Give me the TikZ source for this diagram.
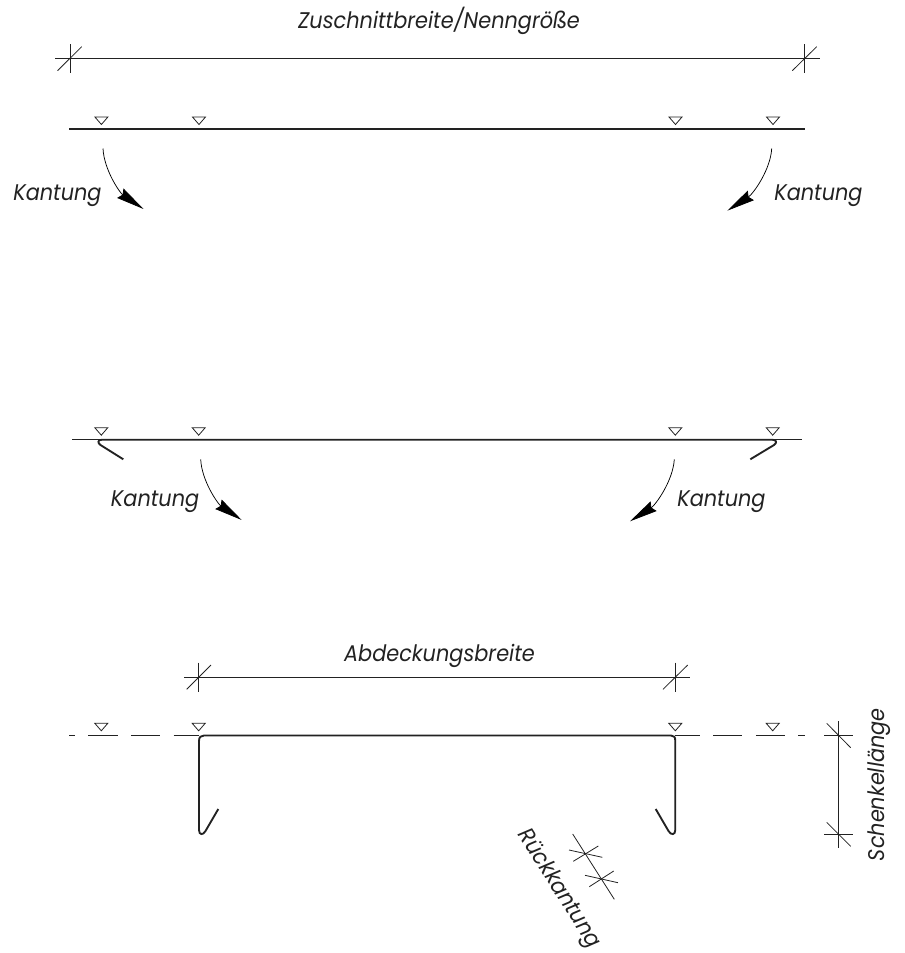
\documentclass[tikz,border=0pt]{standalone}
\usepackage{fontspec}
\setmainfont{Poppins}[FakeStretch=.92]
\usetikzlibrary{arrows.meta}
\definecolor{SheetGray}{HTML}{222222}
\tikzset{
  lbl/.style={inner sep=0pt,font=\fontsize{17pt}{19pt}\selectfont\itshape,text=SheetGray},
  dimline/.style={line width=.6pt,draw=SheetGray},
  sheet/.style={line width=1.4pt,draw=SheetGray},
  thinline/.style={line width=.6pt,draw=SheetGray},
  marker/.style={line width=.6pt,draw=SheetGray},
  foldarrow/.style={line width=.55pt,draw=black,-{Stealth[length=21pt,width=8.5pt,inset=2pt]}}
}
\begin{document}
\begin{tikzpicture}[x=.75pt,y=-.75pt]
        \useasboundingbox (0,0) rectangle (905,953);
        % top sheet
        \draw[dimline] (55,58.7) -- (819.5,58.7);
        \draw[dimline] (70,44) -- (70,73);
        \draw[dimline] (804,44) -- (804,73);
        \draw[dimline] (57.5,70.7) -- (81.7,46.7);
        \draw[dimline] (792.3,70.7) -- (816.7,46.7);
        \node[lbl,anchor=base] (topdim) at (439,28.5) {Zuschnittbreite/Nenngröße};
        \draw[sheet] (69,128.7) -- (805,128.7);
        \draw[foldarrow] (103,148.5) .. controls (104,170) and (120,193) .. (143.5,209);
        \draw[foldarrow] (771.7,148.5) .. controls (770.5,170) and (753,194) .. (727.3,210.7);
        \node[lbl,anchor=base west] (kant1) at (13,200) {Kantung};
        \node[lbl,anchor=base west] (kant2) at (774,200) {Kantung};
        % middle sheet
        \draw[thinline] (72.3,439.7) -- (801.7,439.7);
        \draw[sheet] (123.3,459.3) -- (100.5,445) .. controls (97,442.5) and (98,439.7) .. (102,439.7) -- (772,439.7) .. controls (776.5,439.7) and (777.5,442.5) .. (774,445) -- (750.3,459.3);
        \draw[foldarrow] (200.7,459.3) .. controls (201.7,481) and (218,504) .. (241.7,520);
        \draw[foldarrow] (674.3,459.3) .. controls (673,481) and (655.5,505) .. (630,521.3);
        \node[lbl,anchor=base west] (kant3) at (110.7,506.7) {Kantung};
        \node[lbl,anchor=base west] (kant4) at (677,506.7) {Kantung};
        % bottom profile
        \draw[dimline] (184.3,677.3) -- (690,677.3);
        \draw[dimline] (198.7,662.7) -- (198.7,691.7);
        \draw[dimline] (675.3,662.7) -- (675.3,691.7);
        \draw[dimline] (186.7,689.3) -- (211,665);
        \draw[dimline] (663,689.3) -- (687.7,665);
        \node[lbl,anchor=base] (widthdim) at (439.5,661) {Abdeckungsbreite};
        \draw[thinline,dash pattern=on 22pt off 10pt,dash phase=17.8pt] (69.3,735.3) -- (199,735.3);
        \draw[thinline,dash pattern=on 22pt off 10pt,dash phase=3.4pt] (675,735.3) -- (804.7,735.3);
        \draw[sheet] (218.3,809) -- (205.5,831) .. controls (203,835.5) and (199,835) .. (199,830) -- (199,741) .. controls (199,737) and (201,735.5) .. (204,735.5) -- (671,735.5) .. controls (674,735.5) and (675.3,737) .. (675.3,741) -- (675.3,830) .. controls (675.3,835) and (671,835.5) .. (668.5,831) -- (655.7,809);
        % leg length
        \draw[dimline] (838.7,721) -- (838.7,848.3);
        \draw[dimline] (824.3,735.3) -- (853.3,735.3);
        \draw[dimline] (824.3,834) -- (853.3,834);
        \draw[dimline] (826.7,723.3) -- (850.7,747.7);
        \draw[dimline] (826.7,822.3) -- (850.7,846.3);
        \node[lbl,anchor=base,rotate=90] (legdim) at (884,784.7) {Schenkellänge};
        % return fold
        \draw[dimline] (572.7,834) -- (614.3,899.3);
        \draw[dimline] (569,850) -- (602.3,857.3);
        \draw[dimline] (573.3,861.3) -- (598.3,846);
        \draw[dimline] (585,875.3) -- (618,882.7);
        \draw[dimline] (589.3,886.7) -- (613.7,871);
        \node[lbl,anchor=base,rotate=-57.5] (foldlbl) at (554,892) {Rückkantung};
        % markers
        \foreach \mx/\my in {101.4/117,199/117,675.5/117,773/117,101.3/427.7,198.7/427.7,675.3/427.7,772.7/427.7,101.3/723.3,198.7/723.3,675.3/723.3,772.7/723.3}
          \draw[marker] (\mx-6.5,\my) -- (\mx+6.5,\my) -- (\mx,\my+7.5) -- cycle;
\end{tikzpicture}
\end{document}
